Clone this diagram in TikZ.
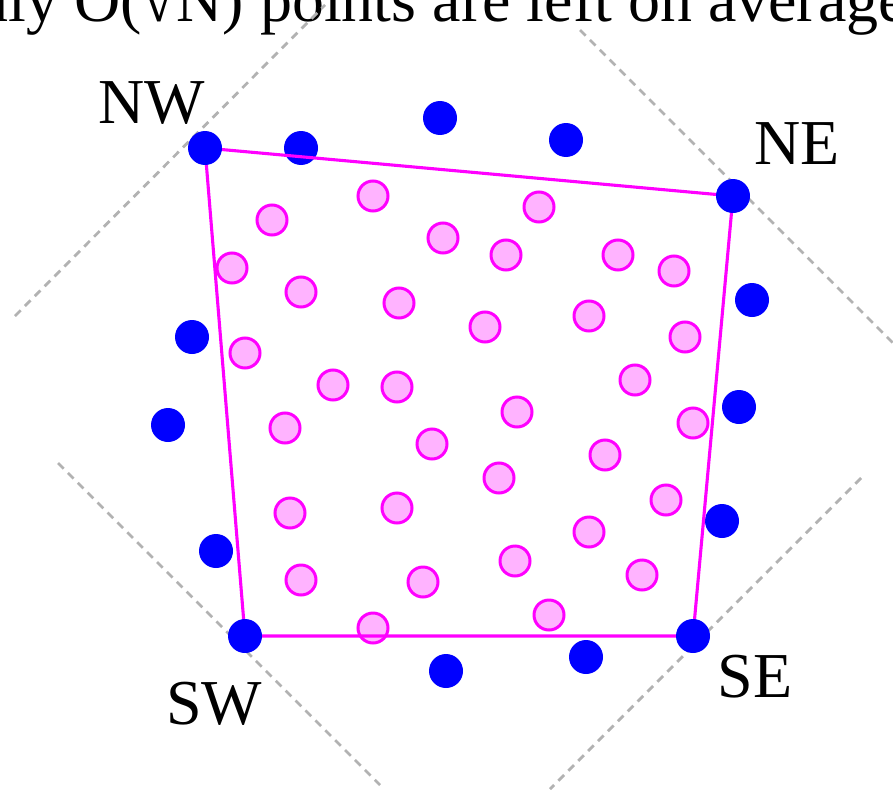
\documentclass[tikz,border=0pt]{standalone}
\usepackage{fontspec}
\setmainfont{Liberation Serif}
\definecolor{hullblue}{RGB}{0,0,255}
\definecolor{hullmag}{RGB}{255,0,255}
\definecolor{pinkfill}{RGB}{255,179,255}
\definecolor{guidegray}{RGB}{178,178,178}
\tikzset{
  bigtext/.style={font=\fontsize{64}{64}\selectfont, inner sep=0pt},
  bluedot/.style={circle, fill=hullblue, minimum size=34pt, inner sep=0pt},
  pinkdot/.style={circle, draw=hullmag, fill=pinkfill, line width=3pt, minimum size=30pt, inner sep=0pt},
  guide/.style={draw=guidegray, line width=2.8pt, dash pattern=on 8pt off 6pt},
  hull/.style={draw=hullmag, line width=3.1pt}
}
\begin{document}
\begin{tikzpicture}[x=1pt,y=-1pt]
\useasboundingbox (0,0) rectangle (893,789);
\clip (0,0) rectangle (893,789);
% title
\node[bigtext, anchor=base west] (title) at (260,22) {\llap{Only O(√N) }points are left on average};
% guide lines
\coordinate (g1a) at (15,316); \coordinate (g1b) at (325,5);
\coordinate (g2a) at (580,30); \coordinate (g2b) at (896,346);
\coordinate (g3a) at (58,463); \coordinate (g3b) at (380,785);
\coordinate (g4a) at (861,478); \coordinate (g4b) at (550,789);
\draw[guide] (g1a) -- (g1b);
\draw[guide] (g2a) -- (g2b);
\draw[guide] (g3a) -- (g3b);
\draw[guide] (g4a) -- (g4b);
% interior points
\foreach \x/\y [count=\i] in {373/196,272/220,443/238,232/268,301/292,399/303,245/353,333/385,397/387,
  539/207,506/255,618/255,674/271,485/327,589/316,685/337,635/380,
  285/428,432/444,290/513,397/508,301/580,423/582,373/628,
  517/412,693/423,605/455,499/478,666/500,589/532,515/561,642/575,549/615}
  \node[pinkdot] (p\i) at (\x,\y) {};
% non-corner extreme points
\foreach \x/\y [count=\i] in {301/148,440/118,566/140,752/300,739/407,722/521,586/657,446/671,216/551,168/425,192/337}
  \node[bluedot] (b\i) at (\x,\y) {};
% hull corners
\coordinate (cnw) at (205,148);
\coordinate (cne) at (733,196);
\coordinate (cse) at (693,636);
\coordinate (csw) at (245,636);
\draw[hull] (cnw) -- (cne) -- (cse) -- (csw) -- cycle;
\node[bluedot] (nw) at (cnw) {};
\node[bluedot] (ne) at (cne) {};
\node[bluedot] (se) at (cse) {};
\node[bluedot] (sw) at (csw) {};
% labels
\node[bigtext, anchor=base] (lnw) at (151.5,124) {NW};
\node[bigtext, anchor=base] (lne) at (797,164) {NE};
\node[bigtext, anchor=base] (lsw) at (214,724) {SW};
\node[bigtext, anchor=base] (lse) at (755,697) {SE};
\end{tikzpicture}
\end{document}
